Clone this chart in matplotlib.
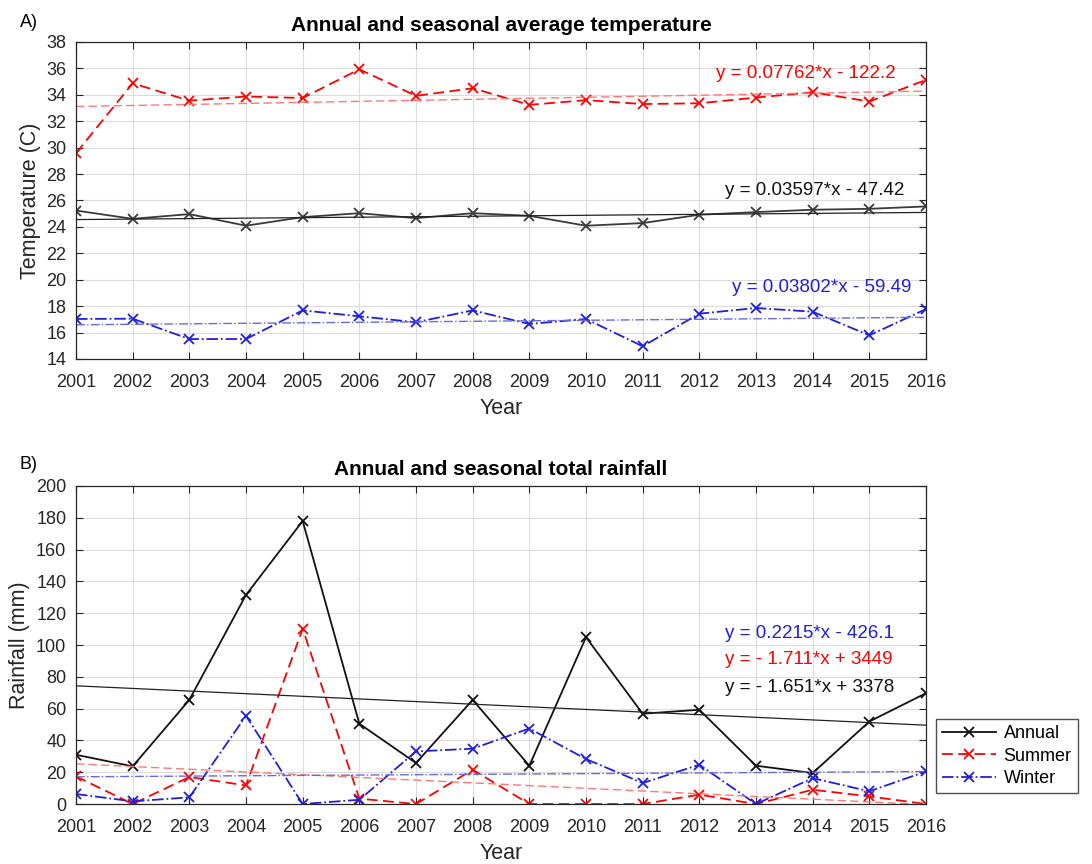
import numpy as np
import matplotlib.pyplot as plt

plt.rcParams['font.family'] = ['Liberation Sans', 'DejaVu Sans']

years = list(range(2001, 2017))
year_ticks = [str(y) for y in years]

# temperature (C)
temp_annual = [25.24, 24.61, 24.97, 24.09, 24.74, 25.04, 24.66, 25.04,
               24.84, 24.09, 24.29, 24.92, 25.12, 25.30, 25.37, 25.55]
temp_summer = [29.58, 34.87, 33.56, 33.87, 33.76, 35.93, 33.92, 34.50,
               33.24, 33.60, 33.30, 33.36, 33.79, 34.20, 33.49, 35.13]
temp_winter = [17.03, 17.05, 15.51, 15.51, 17.68, 17.23, 16.78, 17.68,
               16.65, 17.03, 14.96, 17.43, 17.86, 17.58, 15.79, 17.78]

# rainfall (mm)
rain_annual = [31.0, 23.7, 65.5, 131.5, 178.0, 50.5, 25.8, 65.5,
               24.1, 104.9, 56.8, 59.3, 24.1, 19.5, 51.9, 69.7]
rain_summer = [17.4, 0.0, 17.0, 11.7, 110.2, 3.4, 0.0, 21.6,
               0.0, 0.0, 0.0, 5.9, 0.0, 9.0, 4.8, 0.0]
rain_winter = [6.3, 1.7, 4.2, 55.5, 0.0, 2.7, 33.1, 34.8,
               47.5, 28.3, 13.2, 24.7, 0.0, 16.3, 8.0, 20.5]

# linear fits (slope, intercept) as printed on the chart
fit_temp = {'annual': (0.03597, -47.42), 'summer': (0.07762, -122.2), 'winter': (0.03802, -59.49)}
fit_rain = {'annual': (-1.651, 3378), 'summer': (-1.711, 3449), 'winter': (0.2215, -426.1)}

gray = '#3a3a3a'
red = '#ff0000'
blue = '#1f1fdd'
fs = 13
lab_fs = 15.5

x = np.array(years)

def style_ax(ax):
    ax.grid(True, color='#dcdcdc', linewidth=0.8)
    ax.set_axisbelow(True)
    ax.tick_params(direction='in', top=True, right=True, labelsize=fs,
                   colors='#262626', length=5)
    ax.tick_params(axis='x', pad=11)
    ax.tick_params(axis='y', pad=7)
    for s in ax.spines.values():
        s.set_color('#262626')
        s.set_linewidth(0.9)
    ax.set_xlim(2001, 2016)
    ax.set_xticks(years)
    ax.set_xticklabels(year_ticks)
    ax.set_xlabel('Year', fontsize=lab_fs, color='#262626', labelpad=5)

fig = plt.figure(figsize=(10.92, 8.64), dpi=100)

# ---- A) temperature
ax1 = fig.add_axes([0.0696, 0.5845, 0.7784, 0.3669])
ax1.plot(x, temp_annual, '-x', color=gray, lw=1.3, ms=7, mew=1.3)
ax1.plot(x, temp_summer, '--x', color=red, lw=1.3, ms=7, mew=1.3, dashes=(6, 3))
ax1.plot(x, temp_winter, '-.x', color=blue, lw=1.3, ms=7, mew=1.3)
ax1.plot(x, fit_temp['annual'][0]*x + fit_temp['annual'][1], '-', color='#222222', lw=0.9)
ax1.plot(x, fit_temp['summer'][0]*x + fit_temp['summer'][1], '--', color='#ff7777', lw=1.0, dashes=(6, 3))
ax1.plot(x, fit_temp['winter'][0]*x + fit_temp['winter'][1], '-.', color='#6a6ae0', lw=1.0)
ax1.text(2012.3, 35.65, 'y = 0.07762*x - 122.2', color=red, fontsize=13.5, va='center')
ax1.text(2012.46, 26.72, 'y = 0.03597*x - 47.42', color='#111111', fontsize=13.5, va='center')
ax1.text(2012.57, 19.45, 'y = 0.03802*x - 59.49', color=blue, fontsize=13.5, va='center')
ax1.set_ylim(14, 38)
ax1.set_yticks(np.arange(14, 39, 2))
ax1.set_ylabel('Temperature (C)', fontsize=lab_fs, color='#262626')
ax1.set_title('Annual and seasonal average temperature', fontsize=15, fontweight='bold', pad=8)
style_ax(ax1)

# ---- B) rainfall
ax2 = fig.add_axes([0.0696, 0.0694, 0.7784, 0.3681])
ax2.plot(x, rain_annual, '-x', color='#111111', lw=1.3, ms=7, mew=1.3, label='Annual')
ax2.plot(x, rain_summer, '--x', color=red, lw=1.3, ms=7, mew=1.3, dashes=(6, 3), label='Summer')
ax2.plot(x, rain_winter, '-.x', color=blue, lw=1.3, ms=7, mew=1.3, label='Winter')
ax2.plot(x, fit_rain['annual'][0]*x + fit_rain['annual'][1], '-', color='#222222', lw=0.9)
ax2.plot(x, fit_rain['summer'][0]*x + fit_rain['summer'][1], '--', color='#ff7777', lw=1.0, dashes=(6, 3))
ax2.plot(x, fit_rain['winter'][0]*x + fit_rain['winter'][1], '-.', color='#6a6ae0', lw=1.0)
ax2.text(2012.45, 107.5, 'y = 0.2215*x - 426.1', color=blue, fontsize=13.5, va='center')
ax2.text(2012.45, 91.2, 'y = - 1.711*x + 3449', color=red, fontsize=13.5, va='center')
ax2.text(2012.45, 73.0, 'y = - 1.651*x + 3378', color='#111111', fontsize=13.5, va='center')
ax2.set_ylim(0, 200)
ax2.set_yticks(np.arange(0, 201, 20))
ax2.set_ylabel('Rainfall (mm)', fontsize=lab_fs, color='#262626')
ax2.set_title('Annual and seasonal total rainfall', fontsize=15, fontweight='bold', pad=8)
style_ax(ax2)

leg = ax2.legend(loc='upper left', bbox_to_anchor=(0.857, 0.168), bbox_transform=fig.transFigure,
                 fontsize=13, frameon=True, fancybox=False, edgecolor='#222222',
                 handlelength=3, handletextpad=0.4, borderaxespad=0, labelspacing=0.3,
                 borderpad=0.35)
leg.get_frame().set_linewidth(1.0)

fig.text(0.018, 0.974, 'A)', fontsize=fs, va='center')
fig.text(0.018, 0.462, 'B)', fontsize=fs, va='center')

fig.savefig('out.png', dpi=100)
